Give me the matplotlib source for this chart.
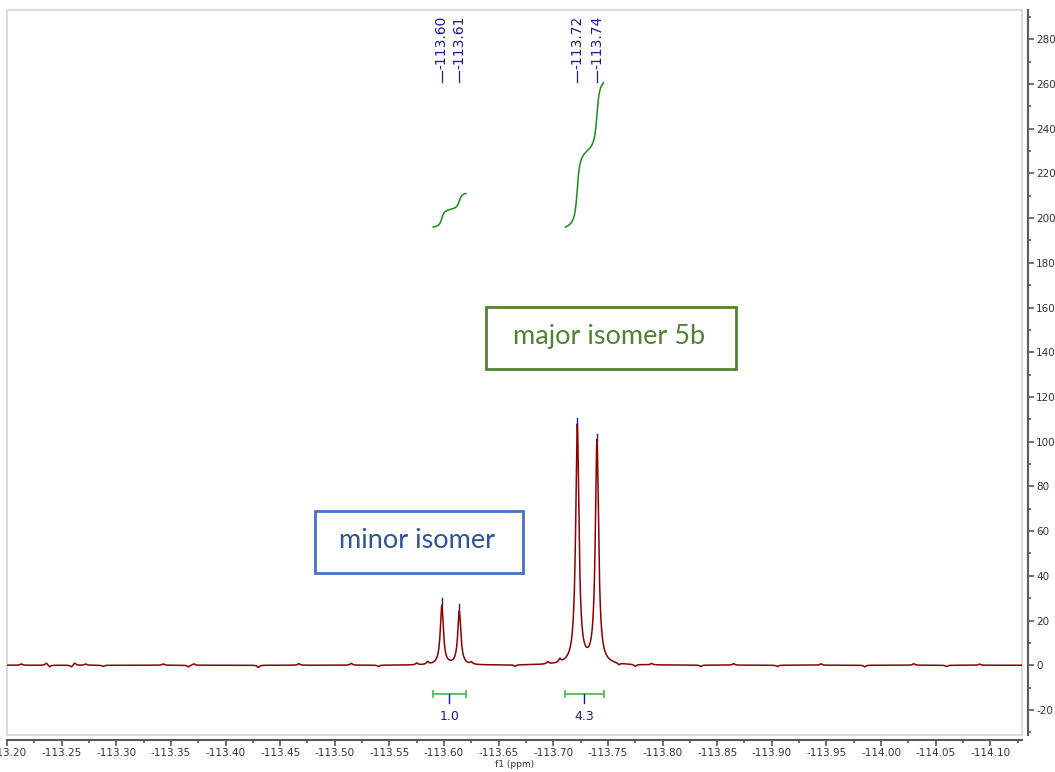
import numpy as np
import matplotlib
matplotlib.use('Agg')
import matplotlib.pyplot as plt
from matplotlib.patches import Rectangle
from matplotlib.ticker import MultipleLocator, FormatStrFormatter

plt.rcParams['axes.unicode_minus'] = False

# 19F signals (ppm, intensity, half width in ppm)
peak_ppm = [-113.598, -113.614, -113.722, -113.740]
peak_height = [26.5, 24.0, 107.0, 100.0]
peak_width = [0.0017, 0.0017, 0.0018, 0.0018]

# small baseline ripples (ppm, intensity)
ripple_ppm = [-113.213, -113.236, -113.239, -113.259, -113.262, -113.272, -113.288,
              -113.343, -113.366, -113.371, -113.430, -113.467, -113.515, -113.540,
              -113.575, -113.585, -113.625, -113.665, -113.695, -113.706, -113.760,
              -113.775, -113.790, -113.835, -113.865, -113.905, -113.945, -113.985,
              -114.030, -114.060, -114.090]
ripple_height = [0.6, 1.0, -0.8, -0.8, 1.0, 0.6, -0.5,
                 0.6, -0.8, 0.7, -1.0, 0.7, 0.8, -0.6,
                 0.8, 1.2, 0.9, -0.7, 1.0, 1.5, -0.8,
                 -0.9, 0.6, -0.6, 0.7, -0.6, 0.6, -0.7,
                 0.7, -0.6, 0.5]

# integration ranges and values
integral_from = [-113.590, -113.711]
integral_to = [-113.620, -113.746]
integral_value = [1.0, 4.3]
integral_base = 196.0
integral_scale = 15.0  # intensity units per integral unit

xlim = (-113.20, -114.129)
ylim = (-31.2, 293.1)

ppm = np.linspace(-113.15, -114.17, 10201)


def lorentz(x, x0, h, g):
    return h * g ** 2 / ((x - x0) ** 2 + g ** 2)


spec = np.zeros_like(ppm)
for p, h, g in zip(peak_ppm, peak_height, peak_width):
    spec += lorentz(ppm, p, h, g)
for p, h in zip(ripple_ppm, ripple_height):
    spec += lorentz(ppm, p, h, 0.0012)

fig = plt.figure(figsize=(10.55, 7.72), dpi=100)
ax = fig.add_axes([7 / 1055, 37 / 772, 1015 / 1055, 725 / 772])

ax.plot(ppm, spec, color='#8b0000', lw=1.1, zorder=3)

navy = '#1c1c8a'

# integral curves and bars
for a, b, v in zip(integral_from, integral_to, integral_value):
    m = (ppm <= a) & (ppm >= b)
    cum = np.cumsum(spec[m])
    cum = cum / cum[-1]
    ax.plot(ppm[m], integral_base + cum * v * integral_scale, color='#1a8c1a', lw=1.1, zorder=3)
    ax.plot([a, b], [-13, -13], color='#5cb85c', lw=1.3)
    ax.plot([a, a], [-14.3, -11.7], color='#5cb85c', lw=1.3)
    ax.plot([b, b], [-14.3, -11.7], color='#5cb85c', lw=1.3)
    mid = (a + b) / 2
    ax.plot([mid, mid], [-13, -17], color=navy, lw=1.0)
    ax.text(mid, -23, f'{v:.1f}', color=navy, fontsize=9, ha='center', va='center')

# peak picking labels
for p, h in zip(peak_ppm, peak_height):
    ax.plot([p, p], [h + 0.5, h + 3.5], color=navy, lw=1.0, zorder=4)
    ax.plot([p, p], [261.0, 266.0], color=navy, lw=0.9)
    ax.text(p, 266.8, f'{p:.2f}', color=navy, fontsize=10, rotation=90,
            ha='center', va='bottom')

# isomer boxes
ax.add_patch(Rectangle((0.4722, 0.5048), 0.2463, 0.0860, transform=ax.transAxes,
                       fill=False, ec='#548235', lw=2.0, zorder=5))
ax.text(0.5931, 0.549, 'major isomer 5b', transform=ax.transAxes, color='#548235',
        fontsize=19.5, family='Lato', ha='center', va='center')
ax.add_patch(Rectangle((0.3034, 0.2239), 0.2053, 0.0851, transform=ax.transAxes,
                       fill=False, ec='#4472c4', lw=2.0, zorder=5))
ax.text(0.404, 0.2676, 'minor isomer', transform=ax.transAxes, color='#2f5597',
        fontsize=19.5, family='Lato', ha='center', va='center')

ax.set_xlim(*xlim)
ax.set_ylim(*ylim)

# light frame around the plotting area, dark offset axes
ax.add_patch(Rectangle((0, 0), 1, 1, transform=ax.transAxes, fill=False,
                       ec='#d4d4d4', lw=1.2, clip_on=False, zorder=1))
ax.spines['top'].set_visible(False)
ax.spines['left'].set_visible(False)
for s in ('bottom', 'right'):
    ax.spines[s].set_color('#5a5a5a')
    ax.spines[s].set_linewidth(1.5)
ax.spines['bottom'].set_position(('outward', 3.6))
ax.spines['right'].set_position(('outward', 4.3))

ax.yaxis.tick_right()
ax.xaxis.set_major_locator(MultipleLocator(0.05))
ax.xaxis.set_minor_locator(MultipleLocator(0.025))
ax.xaxis.set_major_formatter(FormatStrFormatter('%.2f'))
ax.yaxis.set_major_locator(MultipleLocator(20))
ax.yaxis.set_minor_locator(MultipleLocator(10))
ax.tick_params(axis='both', which='major', length=4, width=1.2, color='#5a5a5a',
               labelsize=7.5, labelcolor='#333333', pad=2)
ax.tick_params(axis='both', which='minor', length=2, width=1.2, color='#5a5a5a')
ax.set_xlabel('f1 (ppm)', fontsize=6.5, labelpad=1, color='#333333')

fig.savefig('out.png', dpi=100)
